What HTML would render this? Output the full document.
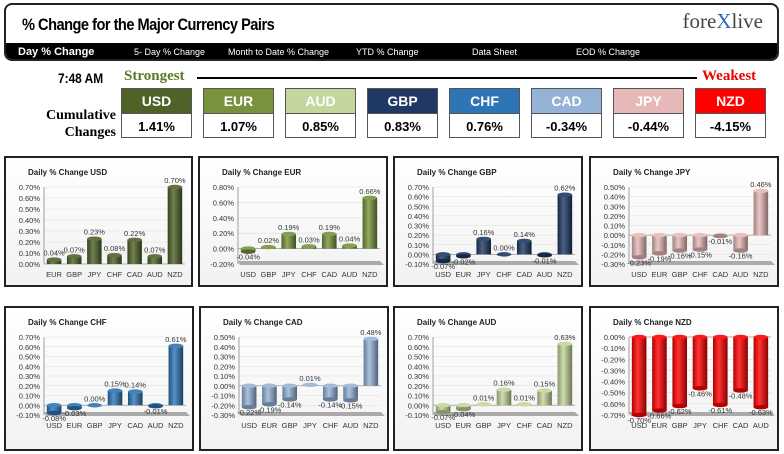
<!DOCTYPE html>
<html><head><meta charset="utf-8"><style>
body{margin:0;width:784px;height:454px;background:#fff;font-family:"Liberation Sans",sans-serif;position:relative;overflow:hidden}
.abs{position:absolute}
.hdr{left:4px;top:3px;width:775px;height:58px;border:2px solid #222;border-radius:8px;overflow:hidden;box-sizing:border-box;background:#fff}
.title{left:16px;top:10px;font-size:17px;font-weight:bold;letter-spacing:-0.6px;transform:scaleX(.86);transform-origin:left}
.bar{left:0;top:38px;width:100%;height:20px;background:#000;color:#fff}
.menu{position:absolute;top:4px;font-size:9px}
.box{width:71px;height:50px;border:1px solid #555;box-sizing:border-box}
.bh{height:24px;color:#fff;font-weight:bold;font-size:14px;text-align:center;line-height:24px;border-bottom:1px solid #555}
.bv{height:25px;font-weight:bold;font-size:13px;text-align:center;line-height:25px;color:#000}
.panel{border:2px solid #222;box-sizing:border-box;background:linear-gradient(#fff,#f2f2f2)}
</style></head><body>
<div class="abs hdr">
 <div class="abs title">% Change for the Major Currency Pairs</div>
 <div class="abs" style="right:14px;top:4px;font-family:'Liberation Serif',serif;font-size:21px;color:#444">fore<span style="color:#2a6fb5">X</span>live</div>
 <div class="abs bar">
  <span class="menu" style="left:12px;font-size:11px;font-weight:bold;top:3px">Day % Change</span>
  <span class="menu" style="left:128px">5- Day % Change</span>
  <span class="menu" style="left:222px">Month to Date % Change</span>
  <span class="menu" style="left:350px">YTD % Change</span>
  <span class="menu" style="left:466px">Data Sheet</span>
  <span class="menu" style="left:570px">EOD % Change</span>
 </div>
</div>
<div class="abs" style="left:54px;top:70px;font-weight:bold;font-size:14px;transform:scaleX(.85)">7:48 AM</div>
<div class="abs" style="left:124px;top:68px;font-weight:bold;font-size:15px;color:#5a7a2a;font-family:'Liberation Serif',serif">Strongest</div>
<div class="abs" style="left:197px;top:77px;width:500px;height:2px;background:#000"></div>
<div class="abs" style="left:702px;top:68px;font-weight:bold;font-size:15px;color:#e00;font-family:'Liberation Serif',serif">Weakest</div>
<div class="abs" style="left:36px;top:107px;font-weight:bold;font-size:14px;text-align:right;width:80px;line-height:17px;font-family:'Liberation Serif',serif">Cumulative<br>Changes</div>
<div id="boxes"></div>
<div id="panels"></div>
<script>
const boxCur=['USD','EUR','AUD','GBP','CHF','CAD','JPY','NZD'];
const boxVal=['1.41%','1.07%','0.85%','0.83%','0.76%','-0.34%','-0.44%','-4.15%'];
const colors={USD:'#4f6228',EUR:'#77933c',AUD:'#c3d69b',GBP:'#1f3864',CHF:'#2e75b6',CAD:'#95b3d7',JPY:'#e6b9b8',NZD:'#ff0000'};
const bx=document.getElementById('boxes');
boxCur.forEach((c,i)=>{
 const d=document.createElement('div');d.className='abs box';d.style.left=(121+i*82)+'px';d.style.top='88px';
 
 
 d.innerHTML='<div class="bh" style="background:'+colors[c]+'">'+c+'</div><div class="bv">'+boxVal[i]+'</div>';
 bx.appendChild(d);
});
const cats_USD=['EUR','GBP','JPY','CHF','CAD','AUD','NZD'], vals_USD=[0.04,0.07,0.23,0.08,0.22,0.07,0.70];
const cats_EUR=['USD','GBP','JPY','CHF','CAD','AUD','NZD'], vals_EUR=[-0.04,0.02,0.19,0.03,0.19,0.04,0.66];
const cats_GBP=['USD','EUR','JPY','CHF','CAD','AUD','NZD'], vals_GBP=[-0.07,-0.02,0.16,0.00,0.14,-0.01,0.62];
const cats_JPY=['USD','EUR','GBP','CHF','CAD','AUD','NZD'], vals_JPY=[-0.23,-0.19,-0.16,-0.15,-0.01,-0.16,0.46];
const cats_CHF=['USD','EUR','GBP','JPY','CAD','AUD','NZD'], vals_CHF=[-0.08,-0.03,0.00,0.15,0.14,-0.01,0.61];
const cats_CAD=['USD','EUR','GBP','JPY','CHF','AUD','NZD'], vals_CAD=[-0.22,-0.19,-0.14,0.01,-0.14,-0.15,0.48];
const cats_AUD=['USD','EUR','GBP','JPY','CHF','CAD','NZD'], vals_AUD=[-0.07,-0.04,0.01,0.16,0.01,0.15,0.63];
const cats_NZD=['USD','EUR','GBP','JPY','CHF','CAD','AUD'], vals_NZD=[-0.70,-0.66,-0.62,-0.46,-0.61,-0.48,-0.63];
const ticks_USD=[0,0.1,0.2,0.3,0.4,0.5,0.6,0.7];
const ticks_EUR=[-0.2,0,0.2,0.4,0.6,0.8];
const ticks_GBP=[-0.1,0,0.1,0.2,0.3,0.4,0.5,0.6,0.7];
const ticks_JPY=[-0.3,-0.2,-0.1,0,0.1,0.2,0.3,0.4,0.5];
const ticks_CHF=[-0.1,0,0.1,0.2,0.3,0.4,0.5,0.6,0.7];
const ticks_CAD=[-0.3,-0.2,-0.1,0,0.1,0.2,0.3,0.4,0.5];
const ticks_AUD=[-0.1,0,0.1,0.2,0.3,0.4,0.5,0.6,0.7];
const ticks_NZD=[-0.7,-0.6,-0.5,-0.4,-0.3,-0.2,-0.1,0];
const charts=[
 ['USD',cats_USD,vals_USD,ticks_USD,4,156,189,131],
 ['EUR',cats_EUR,vals_EUR,ticks_EUR,198,156,190,131],
 ['GBP',cats_GBP,vals_GBP,ticks_GBP,393,156,190,131],
 ['JPY',cats_JPY,vals_JPY,ticks_JPY,589,156,190,131],
 ['CHF',cats_CHF,vals_CHF,ticks_CHF,4,306,190,145],
 ['CAD',cats_CAD,vals_CAD,ticks_CAD,199,306,190,145],
 ['AUD',cats_AUD,vals_AUD,ticks_AUD,393,306,190,145],
 ['NZD',cats_NZD,vals_NZD,ticks_NZD,589,306,190,145]];
const NS='http://www.w3.org/2000/svg';
function el(t,a,p){const e=document.createElementNS(NS,t);for(const k in a)e.setAttribute(k,a[k]);p.appendChild(e);return e;}
function shade(hex,f){const n=parseInt(hex.slice(1),16);let r=n>>16,g=(n>>8)&255,b=n&255;
 const m=v=>Math.max(0,Math.min(255,Math.round(f<0?v*(1+f):v+(255-v)*f)));return 'rgb('+m(r)+','+m(g)+','+m(b)+')';}
const pn=document.getElementById('panels');
charts.forEach(([cur,cats,vals,ticks,px,py,pw,ph])=>{
 const d=document.createElement('div');d.className='abs panel';
 d.style.cssText+='left:'+px+'px;top:'+py+'px;width:'+pw+'px;height:'+ph+'px';
 
 
 pn.appendChild(d);
 const s=el('svg',{width:pw-4,height:ph-4},d);
 s.style.position='absolute';
 const col=colors[cur];
 const g=el('linearGradient',{id:'g'+cur,x1:0,x2:1,y1:0,y2:0},el('defs',{},s));
 el('stop',{offset:'0','stop-color':shade(col,-0.3)},g);
 el('stop',{offset:'0.4','stop-color':shade(col,0.2)},g);
 el('stop',{offset:'1','stop-color':shade(col,-0.45)},g);
 const t=el('text',{x:22,y:17,'font-size':8,'font-weight':'bold',fill:'#222'},s);t.textContent='Daily % Change '+cur;
 
 
 const top=29, bot=(ph>135?107:106), left=38, right=pw-10;
 const mn=ticks[0], mx=ticks[ticks.length-1];
 const y=v=>bot-(v-mn)/(mx-mn)*(bot-top);
 const step=(right-left)/cats.length;
 const x=i=>left+step*(i+0.5);
 ticks.forEach(v=>{
  el('line',{x1:left,x2:right,y1:y(v),y2:y(v),stroke:'#ddd','stroke-width':0.6},s);
  const tl=el('text',{x:left-4,y:y(v)+3,'font-size':7.5,'text-anchor':'end',fill:'#333'},s);
  tl.textContent=v.toFixed(2)+'%';
  
  
 });
 el('line',{x1:left,x2:left,y1:top,y2:bot,stroke:'#888','stroke-width':0.8},s);
 if(mn<0) el('polygon',{points:(left)+','+(bot-3)+' '+(right)+','+(bot-3)+' '+(right+4)+','+(bot+1)+' '+(left+2)+','+(bot+1),fill:'#aaa'},s);
 el('line',{x1:left,x2:right,y1:y(0),y2:y(0),stroke:'#999','stroke-width':0.7},s);
 cats.forEach((c,i)=>{
  const v=vals[i], bw=step*0.72, x0=x(i)-bw/2;
  const y0=y(0), y1=y(v), yt=Math.min(y0,y1), h=Math.abs(y1-y0);
  const r=el('rect',{x:x0,y:yt,width:bw,height:Math.max(h,0.5),fill:'url(#g'+cur+')'},s);
  
  
  el('ellipse',{cx:x(i),cy:yt,rx:bw/2,ry:2.2,fill:shade(col,0.1)},s);
  if(v<0) el('ellipse',{cx:x(i),cy:y1,rx:bw/2,ry:2.2,fill:shade(col,-0.3)},s);
  const vl=el('text',{x:x(i),y:v>=0?y1-4:y1+8,'font-size':7.5,'text-anchor':'middle',fill:'#333'},s);
  vl.textContent=v.toFixed(2)+'%';
  
  
  const cl=el('text',{x:x(i),y:bot+13,'font-size':7.5,'text-anchor':'middle',fill:'#333'},s);
  cl.textContent=c;
  
  
 });
});
</script>
</body></html>
